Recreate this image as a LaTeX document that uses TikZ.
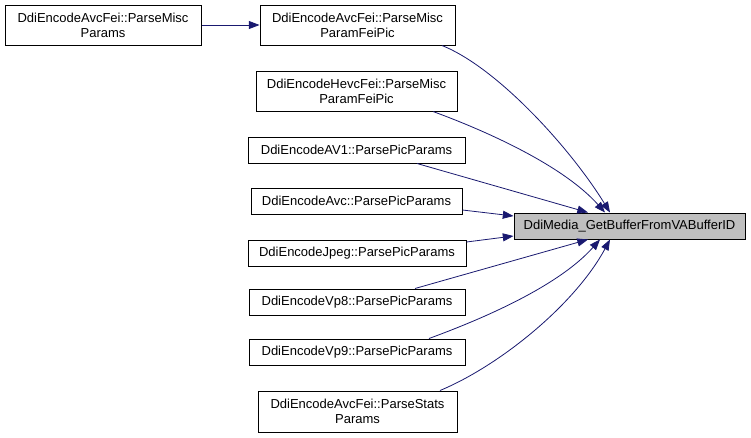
\documentclass[tikz,border=0pt]{standalone}
\usepackage{fontspec}
\setmainfont{Liberation Sans}
\usetikzlibrary{arrows.meta,calc}
\definecolor{edgecol}{HTML}{191970}
\definecolor{hlfill}{HTML}{BFBFBF}
\begin{document}
\begin{tikzpicture}[x=0.75pt,y=-0.75pt,
  box/.style={draw=black, fill=white, line width=0.75pt, inner sep=0pt, align=center,
    font=\fontsize{9.75}{11.25}\selectfont},
  bw/.style={minimum width=#1*0.75pt},
  bh/.style={minimum height=#1*0.75pt},
  edge/.style={draw=edgecol, line width=0.6pt, -{Triangle[length=8pt,width=6pt]}}]
\useasboundingbox (0,0) rectangle (751,437);
\fill[white] (0,0) rectangle (751,437);
\node[box,bw=196,bh=40] (A) at (103,25) {DdiEncodeAvcFei::ParseMisc\\Params};
\node[box,bw=195,bh=40] (B) at (357.5,25) {DdiEncodeAvcFei::ParseMisc\\ParamFeiPic};
\node[box,bw=201,bh=40] (C) at (356.5,91) {DdiEncodeHevcFei::ParseMisc\\ParamFeiPic};
\node[box,bw=217,bh=26] (D) at (356.5,150) {DdiEncodeAV1::ParsePicParams};
\node[box,bw=211,bh=26] (E) at (356.5,201) {DdiEncodeAvc::ParsePicParams};
\node[box,bw=218,bh=26] (F) at (357,253) {DdiEncodeJpeg::ParsePicParams};
\node[box,bw=216,bh=26] (G) at (357,302) {DdiEncodeVp8::ParsePicParams};
\node[box,bw=216,bh=26] (H) at (357,352) {DdiEncodeVp9::ParsePicParams};
\node[box,bw=199,bh=41] (I) at (357.5,411.5) {DdiEncodeAvcFei::ParseStats\\Params};
\node[box,fill=hlfill,bw=231,bh=26] (T) at (629.5,226) {DdiMedia\_GetBufferFromVABufferID};

\draw[edge] (A.east) -- (B.west);
\draw[edge] ($(B.south)+(84.5,0)$) .. controls +(55,22) and +(-40,-65) .. ($(T.north)+(-19.5,0)$);
\draw[edge] ($(C.south)+(76.5,0)$) .. controls +(60,22) and +(-40,-45) .. ($(T.north)+(-24.5,0)$);
\draw[edge] ($(D.south)+(60.5,0)$) -- ($(T.north)+(-41.5,0)$);
\draw[edge] ($(E.east)+(0,9)$) -- ($(T.west)+(0,-10)$);
\draw[edge] ($(F.east)+(0,-11)$) -- ($(T.west)+(0,10)$);
\draw[edge] ($(G.north)+(58,0)$) -- ($(T.south)+(-41.5,0)$);
\draw[edge] ($(H.north)+(72,0)$) .. controls +(60,-22) and +(-40,45) .. ($(T.south)+(-29.5,0)$);
\draw[edge] ($(I.north)+(82.5,0)$) .. controls +(60,-25) and +(-35,65) .. ($(T.south)+(-19.5,0)$);
\end{tikzpicture}
\end{document}
